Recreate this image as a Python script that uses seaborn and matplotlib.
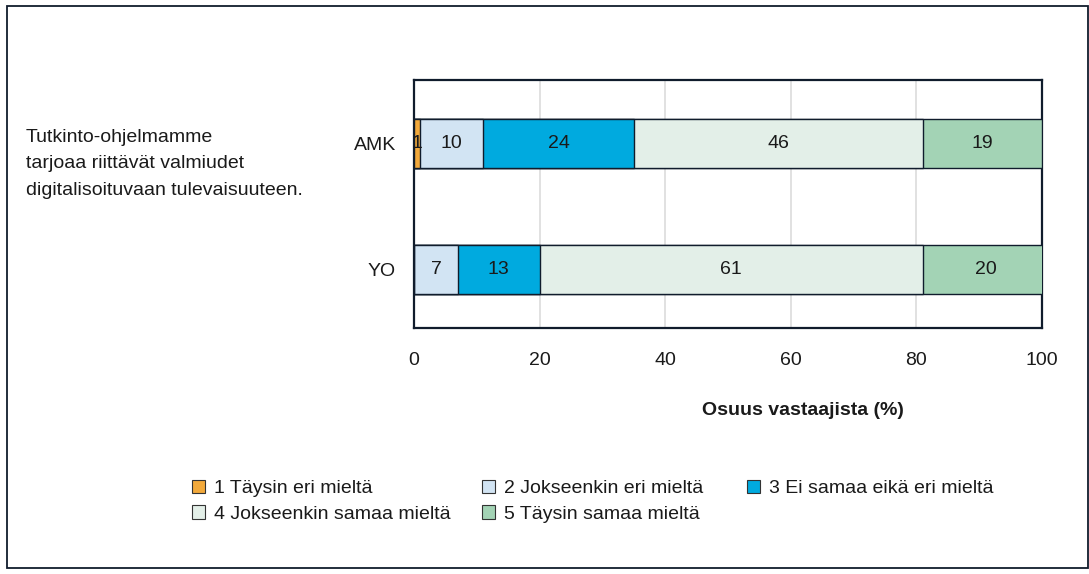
import matplotlib
matplotlib.use("Agg")
import matplotlib.pyplot as plt
from matplotlib.patches import Patch, Rectangle
import seaborn as sns
import pandas as pd

groups = ["AMK", "YO"]
categories = ["1 Täysin eri mieltä", "2 Jokseenkin eri mieltä", "3 Ei samaa eikä eri mieltä",
              "4 Jokseenkin samaa mieltä", "5 Täysin samaa mieltä"]
amk = [1, 10, 24, 46, 19]
yo = [0, 7, 13, 61, 20]
colors = ["#F2A93B", "#D2E4F3", "#00AADF", "#E3EFE8", "#A3D3B5"]
question = ["Tutkinto-ohjelmamme", "tarjoaa riittävät valmiudet", "digitalisoituvaan tulevaisuuteen."]

sns.set_theme(style="white")
plt.rcParams["font.family"] = ["Liberation Sans", "DejaVu Sans"]
edge = "#101c2c"
txt = "#1a1a1a"
fs = 14

df = pd.DataFrame([amk, yo], index=groups, columns=categories)
cum = df.cumsum(axis=1)

fig = plt.figure(figsize=(10.89, 5.74), dpi=100)
ax = fig.add_axes([414 / 1089, 1 - 328 / 574, 628 / 1089, 248 / 574])

# stacked bars: draw cumulative totals from the widest down
for i in reversed(range(len(categories))):
    d = pd.DataFrame({"group": groups, "val": cum.iloc[:, i].values})
    sns.barplot(data=d, x="val", y="group", orient="h", color=colors[i],
                width=0.39, edgecolor=edge, linewidth=1, saturation=1, ax=ax, zorder=3)

for gi, g in enumerate(groups):
    for i, c in enumerate(categories):
        v = df.loc[g, c]
        if v <= 0:
            continue
        ax.text(cum.loc[g, c] - v / 2, gi, f"{v:g}", ha="center", va="center",
                fontsize=fs, color=txt, zorder=5)

ax.set_xlim(0, 100)
ax.set_ylim(1.46, -0.5)
ax.set_xticks(range(0, 101, 20))
ax.xaxis.grid(True, color="#dcdcdc", linewidth=1.2, zorder=0)
ax.set_axisbelow(True)
for s in ax.spines.values():
    s.set_color(edge)
    s.set_linewidth(1.6)
ax.tick_params(axis="both", length=0, labelsize=fs, colors=txt)
ax.tick_params(axis="x", pad=17)
ax.tick_params(axis="y", pad=13)
ax.set_ylabel("")
ax.set_xlabel("Osuus vastaajista (%)", fontsize=fs, fontweight="bold", color=txt)
ax.xaxis.set_label_coords(0.62, -0.30)

for k, line in enumerate(question):
    fig.text(26 / 1089, 1 - (142 + 26.5 * k) / 574, line, ha="left", va="baseline",
             fontsize=fs, color=txt)

handles = [Patch(facecolor=colors[i], edgecolor="#333333", linewidth=0.8, label=categories[i])
           for i in range(len(categories))]
# legend columns at fixed positions, filled row-wise
columns = [[0, 3], [1, 4], [2]]
col_x = [182, 472, 737]
for idx, x in zip(columns, col_x):
    fig.legend([handles[i] for i in idx], [categories[i] for i in idx], ncol=1,
               loc="upper left", bbox_to_anchor=(x / 1089, 1 - 470 / 574), frameon=False,
               fontsize=fs, handlelength=0.7, handleheight=0.7, handletextpad=0.45,
               labelspacing=0.4, borderpad=0, labelcolor=txt)

fig.patches.append(Rectangle((7 / 1089, 6 / 574), 1081 / 1089, 562 / 574, transform=fig.transFigure,
                             fill=False, edgecolor=edge, linewidth=1.3))

fig.savefig("out.png", dpi=100)
